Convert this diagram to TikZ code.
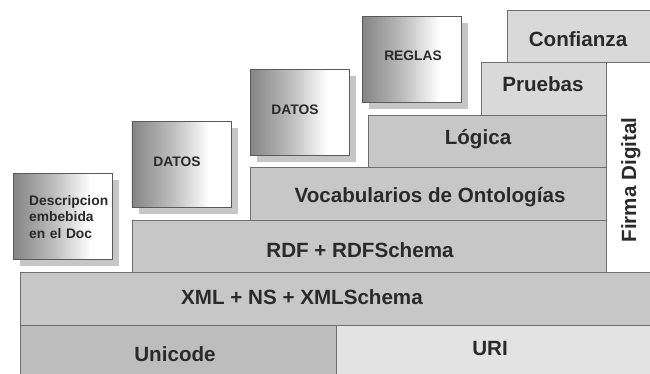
\documentclass[tikz,border=0pt]{standalone}
\usepackage{fontspec}
\setmainfont{Liberation Sans}
\usetikzlibrary{shadows}
\definecolor{shadeL}{HTML}{858585}
\definecolor{boxborder}{HTML}{5A5A5A}
\definecolor{shadowcol}{HTML}{C6C6C6}
\definecolor{barfill}{HTML}{C7C7C7}
\definecolor{barlight}{HTML}{D9D9D9}
\definecolor{unicodecol}{HTML}{BDBDBD}
\definecolor{uricol}{HTML}{E3E3E3}
\definecolor{barborder}{HTML}{6E6E6E}
\definecolor{textcol}{HTML}{2A2A2A}
\pgfdeclarehorizontalshading{boxshade}{100bp}{color(0bp)=(shadeL); color(25bp)=(shadeL); color(45bp)=(shadeL!55!white); color(64bp)=(white); color(100bp)=(white)}
\begin{document}
\begin{tikzpicture}[x=1pt,y=-1pt,
  bar/.style={draw=barborder, line width=0.8pt, fill=barfill, inner sep=0pt, anchor=north west},
  lbl/.style={font=\bfseries\fontsize{20.6}{24}\selectfont, text=textcol, inner sep=0pt, anchor=base},
  gbox/.style={draw=boxborder, line width=0.8pt, shading=boxshade, minimum width=99pt, minimum height=86pt, anchor=north west, inner sep=0pt,
    drop shadow={shadow xshift=7pt, shadow yshift=-7pt, fill=shadowcol, opacity=1}},
  slbl/.style={font=\bfseries\fontsize{13.8}{16.5}\selectfont, text=textcol, inner sep=0pt, anchor=base}]
\useasboundingbox (0,0) rectangle (650,374);
\clip (0,0) rectangle (650,374);
% bars
\node[bar, fill=unicodecol, minimum width=316pt, minimum height=60pt] (unicode) at (20,325) {};
\node[bar, fill=uricol, minimum width=320pt, minimum height=60pt] (uri) at (336,325) {};
\node[bar, minimum width=640pt, minimum height=53pt] (xml) at (20,272) {};
\node[bar, minimum width=474.5pt, minimum height=52.5pt] (rdf) at (131.5,219.5) {};
\node[bar, minimum width=356pt, minimum height=52pt] (vocab) at (250,167.5) {};
\node[bar, minimum width=238pt, minimum height=52.5pt] (logica) at (368,115) {};
\node[bar, fill=barlight, minimum width=125pt, minimum height=53pt] (pruebas) at (481,62) {};
\node[bar, fill=barlight, minimum width=150pt, minimum height=52pt] (confianza) at (507,10) {};
\node[bar, fill=white, minimum width=50pt, minimum height=210pt] (firma) at (606,62) {};
% bar labels
\node[lbl] (unicodet) at (175,361.5) {Unicode};
\node[lbl] (urit) at (490,355) {URI};
\node[lbl] (xmlt) at (302,304.5) {XML + NS + XMLSchema};
\node[lbl] (rdft) at (360,257) {RDF + RDFSchema};
\node[lbl] (vocabt) at (430,203) {Vocabularios de Ontologías};
\node[lbl] (logicat) at (478,145) {Lógica};
\node[lbl] (pruebast) at (543,91.7) {Pruebas};
\node[lbl] (confianzat) at (578,46.7) {Confianza};
\node[lbl, rotate=90] (firmat) at (636,180) {Firma Digital};
% shaded boxes
\node[gbox] (desc) at (13,173) {};
\node[gbox] (datos1) at (131.5,121) {};
\node[gbox] (datos2) at (250,69) {};
\node[gbox] (reglas) at (362,16) {};
\node[slbl, anchor=base west, text width=90pt, align=left] (desct) at (29,205) {Descripcion\\embebida\\en el Doc};
\node[slbl] (datos1t) at (177,167) {DATOS};
\node[slbl] (datos2t) at (295,114.5) {DATOS};
\node[slbl] (reglast) at (413,60.7) {REGLAS};
\end{tikzpicture}
\end{document}
